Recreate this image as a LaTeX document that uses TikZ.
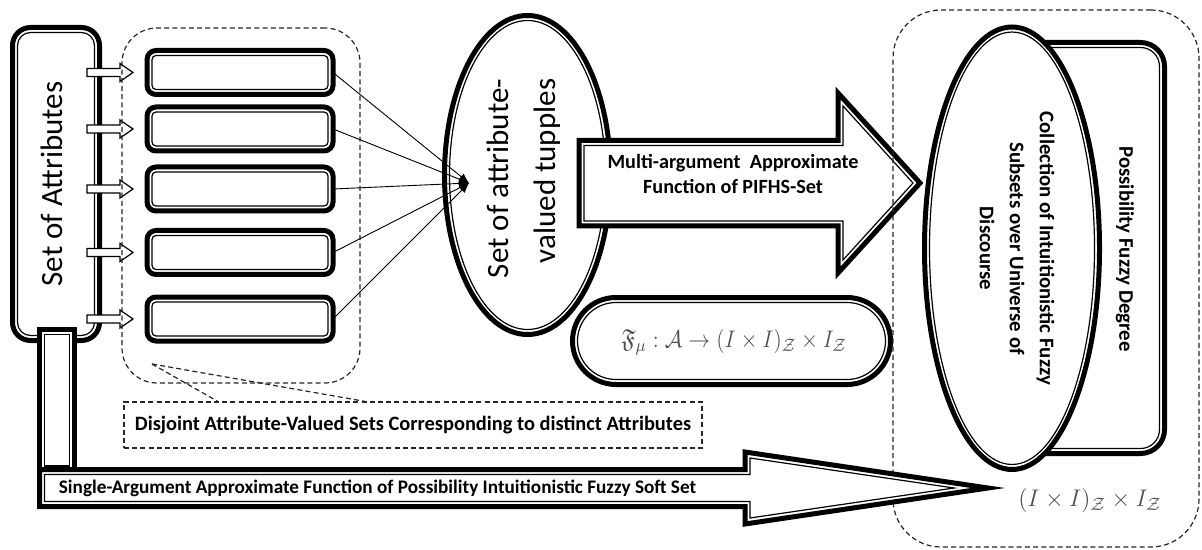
\documentclass[tikz,border=0pt]{standalone}
\usepackage{fontspec}
\usepackage{amssymb}
\newfontfamily\cf{Carlito}
\usetikzlibrary{calc,arrows.meta,shapes.geometric}
\definecolor{fgray}{HTML}{505050}
\newcommand\attrfont{\cf\fontsize{15.5}{23.5}\selectfont}
\newcommand\boldfont{\cf\bfseries\fontsize{10.1}{12.5}\selectfont}
\newcommand\rotfont{\cf\bfseries\fontsize{10.4}{15}\selectfont}
\newcommand\smallbold{\cf\bfseries\fontsize{10.2}{12}\selectfont}
\newcommand\singlefont{\cf\bfseries\fontsize{9.6}{11}\selectfont}
\newcommand\mathsz{\fontsize{13}{15}\selectfont}
\begin{document}
\begin{tikzpicture}[x=0.5pt,y=-0.5pt,
  thickl/.style={line width=2.5pt, line join=miter},
  innerl/.style={line width=0.6pt},
  dblrect/.style={draw, thickl, fill=white, rounded corners=#1, inner sep=0pt, outer sep=0pt,
    path picture={\draw[innerl, rounded corners=#1-2.5pt]
      ([shift={(2.5pt,2.5pt)}]path picture bounding box.south west) rectangle
      ([shift={(-2.5pt,-2.5pt)}]path picture bounding box.north east);}},
  dblsharp/.style={draw, thickl, fill=white, inner sep=0pt, outer sep=0pt,
    path picture={\draw[innerl]
      ([shift={(2.5pt,2.5pt)}]path picture bounding box.south west) rectangle
      ([shift={(-2.5pt,-2.5pt)}]path picture bounding box.north east);}},
  dblell/.style 2 args={ellipse, draw, thickl, fill=white, inner sep=0pt, outer sep=0pt,
    path picture={\draw[innerl] (path picture bounding box.center) ellipse [x radius=#1, y radius=#2];}},
  dashline/.style={draw=black!85, line width=0.6pt, dash pattern=on 2.5pt off 1.6pt},
  smallarr/.style={draw, line width=0.6pt, fill=white},
  convl/.style={line width=0.45pt, -{Latex[length=5pt,width=4pt]}},
]
\useasboundingbox (0,0) rectangle (1202,550);

% left box
\node[dblrect=9pt, minimum width=43.5pt, minimum height=156.5pt] (attr) at (56,184) {};
\node[rotate=90, font=\attrfont, inner sep=0pt] (attrtxt) at (52,184) {Set of Attributes};

% value rectangles
\foreach \i/\y in {1/72.5,2/129,3/189,4/252.5,5/319}
  \node[dblrect=4.5pt, minimum width=93pt, minimum height=22pt] (r\i) at (240,\y) {};

% small arrows
\foreach \i in {1,...,5}
  \draw[smallarr] ($(r\i.west)+(-60,-4)$) -- ++(33,0) -- ++(0,-5) -- ++(13,9) -- ++(-13,9) -- ++(0,-5) -- ++(-33,0) -- cycle;

% dashed group
\node[dashline, rounded corners=17.5pt, minimum width=119pt, minimum height=177.5pt, inner sep=0pt] (grp) at (241,205.5) {};

% ellipse of tuples
\node[dblell={39pt}{77.25pt}, minimum width=83pt, minimum height=159.5pt] (tup) at (527.5,175) {};
\node[rotate=90, font=\attrfont, align=right, inner sep=0pt] (tuptxt) at (523.5,178.5) {Set of attribute-\\valued tupples};

% converging lines
\coordinate (cv) at (469,183);
\foreach \i in {1,...,5}
  \draw[convl] (r\i.east) -- (cv);

% multi-argument arrow
\draw[thickl, fill=white] (579,140.5) -- (838,140.5) -- (838,93) -- (920,183) -- (838,273) -- (838,226) -- (579,226) -- cycle;
\draw[innerl] (584,145.5) -- (843,145.5) -- (843,106) -- (913,183) -- (843,260) -- (843,221) -- (584,221) -- cycle;
\node[font=\boldfont, align=center, inner sep=0pt] (multitxt) at (733,173.5) {Multi-argument\ \ Approximate\\Function of PIFHS-Set};

% formula box
\node[dblrect=21.75pt, minimum width=159pt, minimum height=43.5pt] (fbox) at (731.5,341) {};
\node[text=fgray, font=\mathsz, inner sep=0pt] (ftxt) at (734,342) {\scalebox{0.91}[1]{$\mathfrak{F}_\mu : \mathcal{A} \to (I\times I)_{\mathcal{Z}} \times I_{\mathcal{Z}}$}};

% right dashed group
\node[dashline, rounded corners=24pt, minimum width=153pt, minimum height=268.5pt, inner sep=0pt] (rgrp) at (1046,278.5) {};

% possibility rectangle
\node[dblrect=12pt, minimum width=81.25pt, minimum height=205.5pt] (pos) at (1083.25,248) {};
\node[rotate=-90, font=\rotfont, inner sep=0pt] (postxt) at (1125,249) {Possibility Fuzzy Degree};

% collection ellipse
\node[dblell={41.25pt}{108.1pt}, minimum width=87.5pt, minimum height=221.25pt] (coll) at (1012,248.25) {};
\node[rotate=-90, font=\rotfont, align=center, inner sep=0pt] (colltxt) at (1017,248.5) {Collection of Intuitionistic Fuzzy\\Subsets over Universe of\\Discourse};

% second formula
\node[text=fgray, font=\mathsz, inner sep=0pt] (f2txt) at (1090,500) {$(I\times I)_{\mathcal{Z}} \times I_{\mathcal{Z}}$};

% disjoint box
\node[dashline, minimum width=289pt, minimum height=23pt, inner sep=0pt, font=\smallbold] (dj) at (413,425) {Disjoint Attribute-Valued Sets Corresponding to distinct Attributes};
\coordinate (co) at (152,364);
\draw[dashline] (co) -- ($(dj.north west)!0.163!(dj.north east)$);
\draw[dashline] (co) -- ($(dj.north west)!0.417!(dj.north east)$);

% vertical bar
\node[dblsharp, minimum width=17.5pt, minimum height=70.75pt] (vbar) at (57,400.25) {};

% single-argument arrow
\draw[thickl, fill=white] (39.5,469.5) -- (745,469.5) -- (745,452) -- (988,488) -- (745,524) -- (745,506.5) -- (39.5,506.5) -- cycle;
\draw[innerl] (44.5,474.5) -- (750,474.5) -- (750,458) -- (954,488) -- (750,518) -- (750,501.5) -- (44.5,501.5) -- cycle;
\node[font=\singlefont, inner sep=0pt] (satxt) at (377.5,488) {Single-Argument Approximate Function of Possibility Intuitionistic Fuzzy Soft Set};
\end{tikzpicture}
\end{document}
